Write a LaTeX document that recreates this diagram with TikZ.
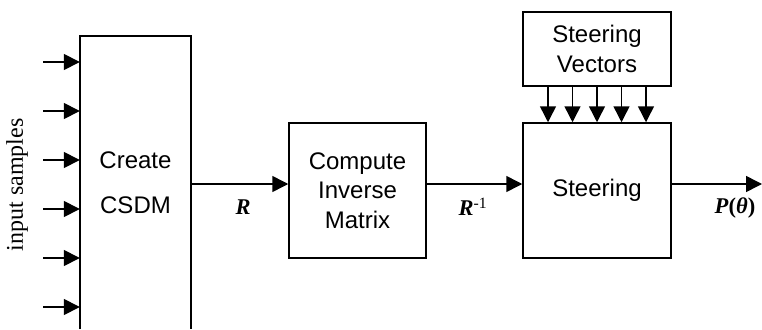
\documentclass[tikz,border=0pt]{standalone}
\usepackage{fontspec}
\setmainfont{Liberation Sans}
\newfontfamily\tms{Liberation Serif}
\usetikzlibrary{arrows.meta}
\tikzset{
  blk/.style={draw, line width=1.5pt, inner sep=0pt, align=center, font=\fontsize{24}{29.5}\selectfont},
  arr/.style={line width=1.5pt, -{Triangle[length=16pt,width=16pt]}},
  lbl/.style={font=\tms\fontsize{22.5}{26}\selectfont, inner sep=0pt}
}
\begin{document}
\begin{tikzpicture}[x=1pt,y=-1pt]
\useasboundingbox (0,0) rectangle (762,329);
% CSDM (open at bottom)
\node[inner sep=0pt, minimum width=111pt, minimum height=293pt, align=center,
      font=\fontsize{24}{45}\selectfont] (csdm) at (135.5,182.5) {Create\\CSDM};
\draw[line width=1.5pt] (csdm.south west) |- (csdm.north east) -- (csdm.south east);
% other blocks
\node[blk, minimum width=137pt, minimum height=135pt] (inv) at (357.5,190.5) {Compute\\Inverse\\Matrix};
\node[blk, minimum width=148pt, minimum height=135pt] (st) at (597,190.5) {Steering};
\node[blk, minimum width=148pt, minimum height=74pt] (sv) at (597,49) {Steering\\Vectors};
% inputs
\foreach \y [count=\i] in {62,111,160,209,258,307} {
  \coordinate (in\i) at (43,\y);
  \draw[arr] (in\i) -- (in\i -| csdm.west);
}
\node[rotate=90, font=\tms\fontsize{24}{28}\selectfont, inner sep=0pt] (inlbl) at (17,185) {input samples};
% main chain
\coordinate (lvl) at (0,184);
\draw[arr] (lvl -| csdm.east) -- (lvl -| inv.west);
\draw[arr] (lvl -| inv.east) -- (lvl -| st.west);
\coordinate (out) at (762,184);
\draw[arr] (lvl -| st.east) -- (out);
% steering vectors arrows
\foreach \x in {548,572.5,597,621.5,646} {
  \draw[arr] (sv.south -| \x,0) -- (st.north -| \x,0);
}
% labels
\node[lbl] (r) at (243,207) {\textbf{\textit{R}}};
\node[lbl] (rinv) at (473,207) {\textbf{\textit{R}}\textsuperscript{-1}};
\node[lbl] (p) at (735,208) {\textbf{\textit{P}(\textit{θ})}};
\end{tikzpicture}
\end{document}
